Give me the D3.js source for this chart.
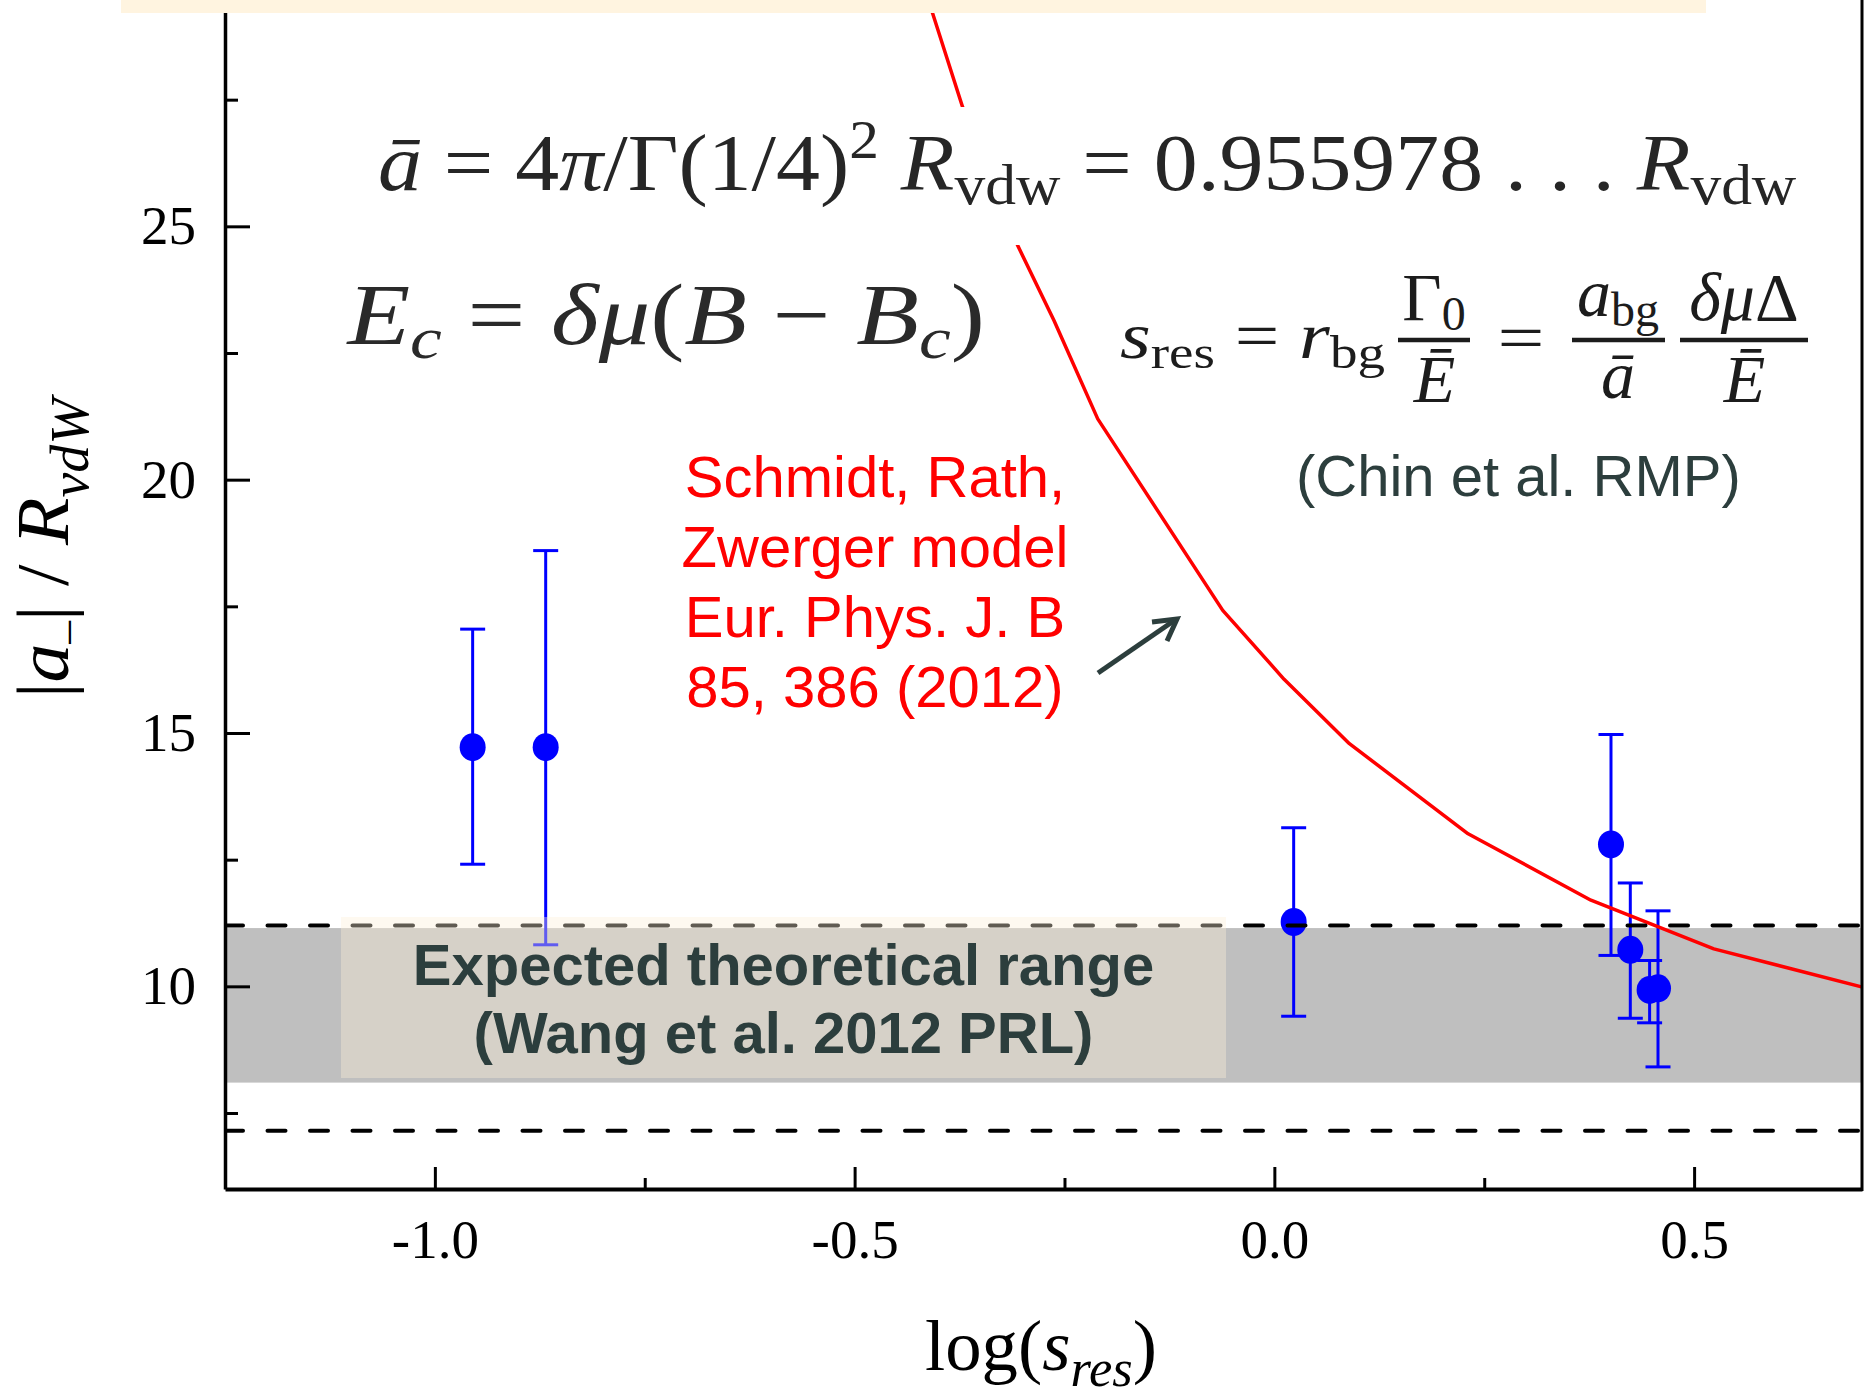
<!DOCTYPE html>
<html>
<head>
<meta charset="utf-8">
<script src="https://cdn.jsdelivr.net/npm/d3@7"></script>
<style>
  html, body { margin: 0; padding: 0; background: #ffffff; }
  svg { display: block; }
</style>
</head>
<body>
<svg id="chart" width="1864" height="1396"></svg>
<script>
// ---------------- DATA ----------------
const xDomain = [-1.25, 0.7];
const yDomain = [6, 30];
const xTicksMajor = [-1.0, -0.5, 0.0, 0.5];
const xTickLabels = ["-1.0", "-0.5", "0.0", "0.5"];
const xTicksMinor = [-0.75, -0.25, 0.25];
const yTicksMajor = [10, 15, 20, 25];
const yTickLabels = ["10", "15", "20", "25"];
const yTicksMinor = [7.5, 12.5, 17.5, 22.5, 27.5];

// measured points |a-|/RvdW vs log(s_res)
const pointX    = [-0.955, -0.868, 0.023, 0.401, 0.424, 0.447, 0.457];
const pointY    = [14.72, 14.72, 11.27, 12.80, 10.72, 9.93, 9.96];
const errTop    = [17.05, 18.60, 13.13, 14.97, 12.04, 10.51, 11.49];
const errBottom = [12.41, 10.82, 9.41, 10.61, 9.37, 9.28, 8.41];

// Schmidt, Rath, Zwerger model curve
const curveX = [-0.4233, -0.407, -0.3713, -0.3057, -0.2625, -0.2104, -0.0615, 0.0116, 0.0894, 0.2308, 0.3771, 0.5235, 0.7014];
const curveY = [30.01, 29.20, 27.35, 24.62, 23.14, 21.20, 17.42, 16.06, 14.79, 13.01, 11.70, 10.74, 9.98];

// expected theoretical range band and dashed limits
const bandRange = [8.1, 11.15];
const dashedLevels = [11.2, 7.15];

const modelLabel = ["Schmidt, Rath,", "Zwerger model", "Eur. Phys. J. B", "85, 386 (2012)"];
const rangeLabel = ["Expected theoretical range", "(Wang et al. 2012 PRL)"];
const chinLabel = "(Chin et al. RMP)";

// ---------------- LAYOUT ----------------
const svg = d3.select("#chart");
const left = 225, right = 1862, bottom = 1189;
const x = d3.scaleLinear().domain(xDomain).range([left, right]);
const y = d3.scaleLinear().domain(yDomain).range([bottom, -27]);
const SERIF = "'Liberation Serif', 'Times New Roman', serif";
const SANS = "'Liberation Sans', Arial, sans-serif";
const SLATE = "#2c3e3d";

svg.append("rect").attr("width", 1864).attr("height", 1396).attr("fill", "#ffffff");

svg.append("defs").append("clipPath").attr("id", "plotclip")
  .append("rect").attr("x", left).attr("y", 0).attr("width", right - left).attr("height", bottom);

const plot = svg.append("g").attr("clip-path", "url(#plotclip)");

// band
plot.append("rect")
  .attr("x", x(xDomain[0])).attr("width", x(xDomain[1]) - x(xDomain[0]))
  .attr("y", y(bandRange[1])).attr("height", y(bandRange[0]) - y(bandRange[1]))
  .attr("fill", "#bfbfbf");

// points with error bars
const pts = pointX.map((v, i) => ({ x: v, y: pointY[i], hi: errTop[i], lo: errBottom[i] }));
const eg = plot.append("g").attr("stroke", "#0000ff").attr("stroke-width", 3);
eg.selectAll("line.v").data(pts).join("line").attr("class", "v")
  .attr("x1", d => x(d.x)).attr("x2", d => x(d.x))
  .attr("y1", d => y(d.hi)).attr("y2", d => y(d.lo));
eg.selectAll("line.t").data(pts).join("line").attr("class", "t")
  .attr("x1", d => x(d.x) - 12.5).attr("x2", d => x(d.x) + 12.5)
  .attr("y1", d => y(d.hi)).attr("y2", d => y(d.hi));
eg.selectAll("line.b").data(pts).join("line").attr("class", "b")
  .attr("x1", d => x(d.x) - 12.5).attr("x2", d => x(d.x) + 12.5)
  .attr("y1", d => y(d.lo)).attr("y2", d => y(d.lo));
plot.append("g").selectAll("ellipse").data(pts).join("ellipse")
  .attr("cx", d => x(d.x)).attr("cy", d => y(d.y))
  .attr("rx", 13).attr("ry", 14).attr("fill", "#0000ff");

// curve
const curveData = curveX.map((v, i) => [v, curveY[i]]);
plot.append("path").datum(curveData)
  .attr("d", d3.line().x(d => x(d[0])).y(d => y(d[1])))
  .attr("fill", "none").attr("stroke", "#ff0000").attr("stroke-width", 3.5)
  .attr("stroke-linejoin", "round");

// dashed lines
plot.selectAll("line.dash").data(dashedLevels).join("line").attr("class", "dash")
  .attr("x1", left).attr("x2", right)
  .attr("y1", d => y(d)).attr("y2", d => y(d))
  .attr("stroke", "#000").attr("stroke-width", 4)
  .attr("stroke-dasharray", "18 24.5").attr("stroke-linecap", "round");

// translucent text box
svg.append("rect").attr("x", 341).attr("y", 917).attr("width", 885).attr("height", 161)
  .attr("fill", "rgb(252,240,215)").attr("fill-opacity", 0.38);

svg.append("g").attr("font-family", SANS).attr("font-weight", "bold").attr("font-size", 58)
  .attr("fill", SLATE).attr("text-anchor", "middle")
  .selectAll("text").data(rangeLabel).join("text")
  .attr("x", 783.5).attr("y", (d, i) => 985 + i * 68.3).text(d => d);

// ---------------- AXES ----------------
const yAxis = svg.append("g").attr("transform", `translate(${left},0)`)
  .call(d3.axisLeft(y).tickValues(yTicksMajor).tickFormat((d, i) => yTickLabels[i])
    .tickSizeInner(-25).tickSizeOuter(0).tickPadding(29));
yAxis.select(".domain").attr("stroke-width", 3.5);
yAxis.selectAll(".tick line").attr("stroke-width", 3);
yAxis.selectAll(".tick text").attr("font-family", SERIF).attr("font-size", 55).attr("fill", "#000");

const yMinor = svg.append("g").attr("transform", `translate(${left},0)`)
  .call(d3.axisLeft(y).tickValues(yTicksMinor).tickFormat("").tickSizeInner(-13).tickSizeOuter(0));
yMinor.select(".domain").remove();
yMinor.selectAll(".tick line").attr("stroke-width", 3);

const xAxis = svg.append("g").attr("transform", `translate(0,${bottom})`)
  .call(d3.axisBottom(x).tickValues(xTicksMajor).tickFormat((d, i) => xTickLabels[i])
    .tickSizeInner(-22).tickSizeOuter(0).tickPadding(30));
xAxis.select(".domain").attr("stroke-width", 4);
xAxis.selectAll(".tick line").attr("stroke-width", 3);
xAxis.selectAll(".tick text").attr("font-family", SERIF).attr("font-size", 55).attr("fill", "#000");

const xMinor = svg.append("g").attr("transform", `translate(0,${bottom})`)
  .call(d3.axisBottom(x).tickValues(xTicksMinor).tickFormat("").tickSizeInner(-11).tickSizeOuter(0));
xMinor.select(".domain").remove();
xMinor.selectAll(".tick line").attr("stroke-width", 3);

// right frame
svg.append("line").attr("x1", right).attr("x2", right).attr("y1", 0).attr("y2", bottom + 2)
  .attr("stroke", "#000").attr("stroke-width", 3);

// ---------------- RICH TEXT HELPERS ----------------
function rich(parent, parts, fs, family, fill) {
  const t = parent.append("text").attr("font-family", family).attr("font-size", fs).attr("fill", fill);
  let shift = 0;
  parts.forEach(p => {
    const ts = t.append("tspan").text(p.t);
    const target = p.sub ? p.sub : (p.sup ? -p.sup : 0);
    if (target !== shift) { ts.attr("dy", target - shift); shift = target; }
    if (p.it) ts.attr("font-style", "italic");
    if (p.fs) ts.attr("font-size", p.fs);
  });
  return t;
}
function fitLeft(t, leftX, width, baseline) {
  const bb = t.node().getBBox();
  const s = width / bb.width;
  t.attr("transform", `translate(${leftX - bb.x * s},${baseline}) scale(${s},1)`);
}
function fitCenter(t, cx, width, baseline) {
  const bb = t.node().getBBox();
  const s = width / bb.width;
  t.attr("transform", `translate(${cx - (bb.x + bb.width / 2) * s},${baseline}) scale(${s},1)`);
}
function center(t, cx, baseline) {
  const bb = t.node().getBBox();
  t.attr("transform", `translate(${cx - (bb.x + bb.width / 2)},${baseline})`);
}

// axis titles
const xt = rich(svg, [
  { t: "log(" }, { t: "s", it: true }, { t: "res", it: true, sub: 16, fs: 52 }, { t: ")" }
], 72, SERIF, "#000");
fitLeft(xt, 925, 232, 1370);

const yt = rich(svg, [
  { t: "|" }, { t: "a", it: true }, { t: "\u2013", sub: 12, fs: 44 }, { t: "| / " },
  { t: "R", it: true }, { t: "vdW", it: true, sub: 20, fs: 54 }
], 75, SERIF, "#000");
{
  const bb = yt.node().getBBox();
  const s = 305 / bb.width;
  yt.attr("transform", `translate(68,545.5) rotate(-90) scale(${s},1) translate(${-(bb.x + bb.width / 2)},0)`);
}

// formula 1 (white background covers the curve)
svg.append("rect").attr("x", 360).attr("y", 107).attr("width", 1450).attr("height", 138).attr("fill", "#ffffff");
const f1 = rich(svg, [
  { t: "\u0101", it: true }, { t: " = 4" }, { t: "\u03c0", it: true }, { t: "/\u0393(1/4)" },
  { t: "2", sup: 32, fs: 54 }, { t: " " }, { t: "R", it: true }, { t: "vdw", sub: 14, fs: 56 },
  { t: " = 0.955978 . . . " }, { t: "R", it: true }, { t: "vdw", sub: 14, fs: 56 }
], 80, SERIF, "#262626");
fitLeft(f1, 378, 1419, 190);

// formula 2
const f2 = rich(svg, [
  { t: "E", it: true }, { t: "c", it: true, sub: 14, fs: 60 }, { t: " = " },
  { t: "\u03b4\u03bc", it: true }, { t: "(" }, { t: "B", it: true }, { t: " \u2212 " },
  { t: "B", it: true }, { t: "c", it: true, sub: 14, fs: 60 }, { t: ")" }
], 86, SERIF, "#2a2a2a");
fitLeft(f2, 345, 640, 344);

// formula 3
const f3a = rich(svg, [
  { t: "s", it: true }, { t: "res", sub: 10, fs: 46 }, { t: " = " },
  { t: "r", it: true }, { t: "bg", sub: 10, fs: 46 }
], 66, SERIF, "#1c1c1c");
fitLeft(f3a, 1120, 265, 358);
const eq2 = rich(svg, [{ t: "=" }], 66, SERIF, "#1c1c1c");
fitCenter(eq2, 1521, 47, 360);

const bars = [[1398, 1470], [1572, 1665], [1680, 1808]];
svg.selectAll("line.fbar").data(bars).join("line").attr("class", "fbar")
  .attr("x1", d => d[0]).attr("x2", d => d[1]).attr("y1", 340).attr("y2", 340)
  .attr("stroke", "#1c1c1c").attr("stroke-width", 4.5);

const n1 = rich(svg, [{ t: "\u0393" }, { t: "0", sub: 10, fs: 48 }], 68, SERIF, "#1c1c1c");
center(n1, 1434, 320);
const n2 = rich(svg, [{ t: "a", it: true }, { t: "bg", sub: 10, fs: 48 }], 68, SERIF, "#1c1c1c");
center(n2, 1618, 316);
const n3 = rich(svg, [{ t: "\u03b4\u03bc", it: true }, { t: "\u0394" }], 68, SERIF, "#1c1c1c");
center(n3, 1744, 320);
const d1 = rich(svg, [{ t: "\u0112", it: true }], 68, SERIF, "#1c1c1c");
center(d1, 1434, 402);
const d2 = rich(svg, [{ t: "\u0101", it: true }], 68, SERIF, "#1c1c1c");
center(d2, 1618, 398);
const d3t = rich(svg, [{ t: "\u0112", it: true }], 68, SERIF, "#1c1c1c");
center(d3t, 1744, 402);

// annotations
svg.append("g").attr("font-family", SANS).attr("font-size", 58).attr("fill", "#ff0000")
  .attr("text-anchor", "middle")
  .selectAll("text").data(modelLabel).join("text")
  .attr("x", 875).attr("y", (d, i) => 497 + i * 70).text(d => d);

svg.append("text").attr("font-family", SANS).attr("font-size", 58).attr("fill", SLATE)
  .attr("x", 1296).attr("y", 496).text(chinLabel);

svg.append("line").attr("x1", 1098).attr("y1", 673).attr("x2", 1175).attr("y2", 620)
  .attr("stroke", SLATE).attr("stroke-width", 5);
svg.append("polyline").attr("points", "1152,622 1177,619 1167,641")
  .attr("fill", "none").attr("stroke", SLATE).attr("stroke-width", 5).attr("stroke-linejoin", "miter");

// top banner
svg.append("rect").attr("x", 121).attr("y", 0).attr("width", 1585).attr("height", 13).attr("fill", "#fff4e0");
</script>
</body>
</html>
